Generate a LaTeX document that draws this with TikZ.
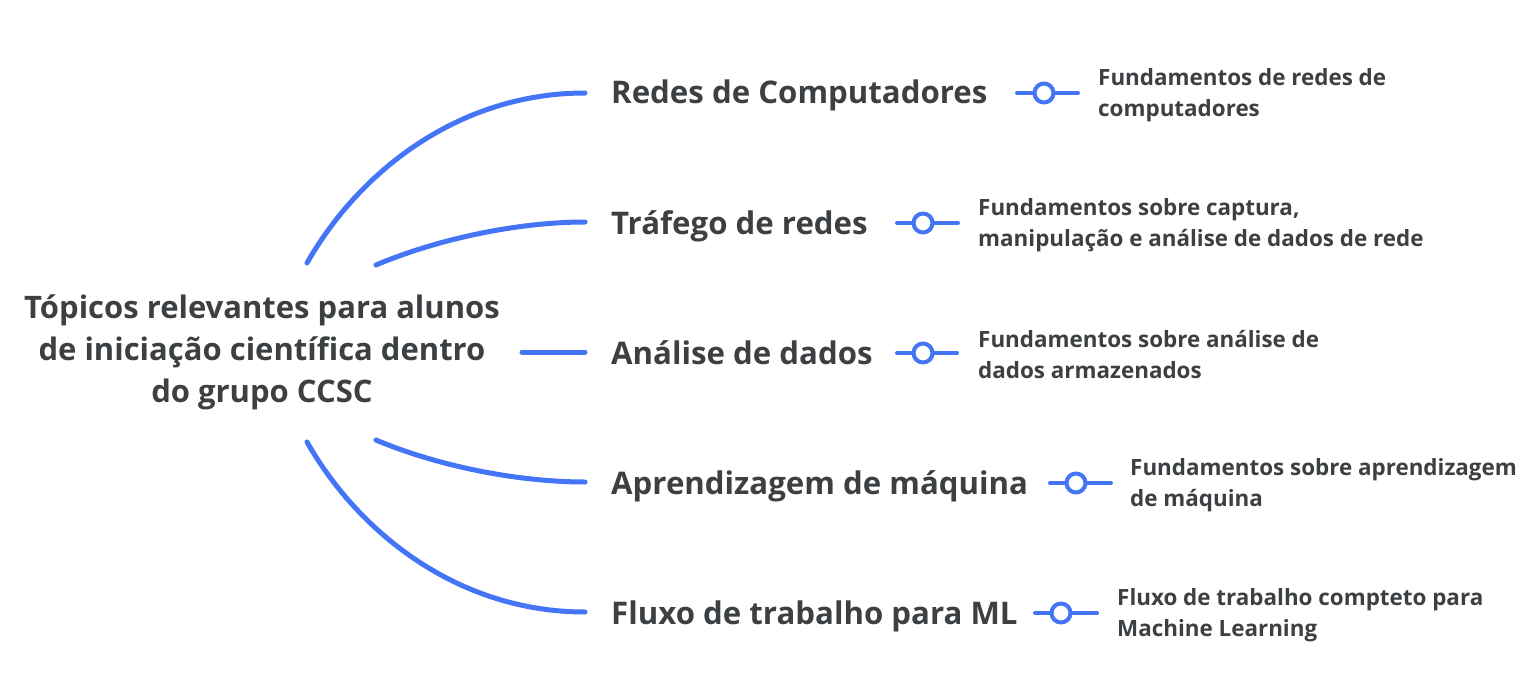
\documentclass[tikz,border=0pt]{standalone}
\usepackage{fontspec}
\setmainfont{Open Sans}
\definecolor{blu}{HTML}{4475F7}
\definecolor{ink}{HTML}{3C4043}
\begin{document}
\begin{tikzpicture}[x=1pt,y=-1pt,
  link/.style={draw=blu,line width=5pt,line cap=round},
  tick/.style={draw=blu,line width=4pt,line cap=round},
  dot/.style={circle,draw=blu,line width=4pt,fill=white,minimum size=19pt,inner sep=0pt},
  topic/.style={anchor=base west,inner sep=0pt,text=ink,font=\fontsize{31.2}{38}\selectfont\bfseries},
  detail/.style={anchor=west,inner sep=0pt,align=left,text=ink,font=\fontsize{22.4}{31}\selectfont\bfseries},
  title/.style={align=center,inner sep=0pt,text=ink,font=\fontsize{31}{42}\selectfont\bfseries}]
\useasboundingbox (0,0) rectangle (1536,690);

\node[title] (root) at (262,352) {Tópicos relevantes para alunos\\de iniciação científica dentro\\do grupo CCSC};

\node[topic] (t1) at (611,104) {Redes de Computadores};
\node[topic] (t2) at (611,234) {Tráfego de redes};
\node[topic] (t3) at (611,364) {Análise de dados};
\node[topic] (t4) at (611,494) {Aprendizagem de máquina};
\node[topic] (t5) at (611,624) {Fluxo de trabalho para ML};

\coordinate (s1) at (307,263); \coordinate (e1) at (585,93);
\coordinate (s2) at (376,265); \coordinate (e2) at (585,222);
\coordinate (s3) at (522,352); \coordinate (e3) at (585,352);
\coordinate (s4) at (376,440); \coordinate (e4) at (585,482);
\coordinate (s5) at (307,442); \coordinate (e5) at (585,612);

\draw[link] (s1) .. controls (360,170) and (460,93) .. (e1);
\draw[link] (s2) .. controls (440,238) and (520,222) .. (e2);
\draw[link] (s3) -- (e3);
\draw[link] (s4) .. controls (440,467) and (520,482) .. (e4);
\draw[link] (s5) .. controls (360,535) and (460,612) .. (e5);

\node[dot] (d1) at (1044,93) {};
\node[dot] (d2) at (923,223) {};
\node[dot] (d3) at (923,353) {};
\node[dot] (d4) at (1076,483) {};
\node[dot] (d5) at (1061,613) {};

\coordinate (a1) at (1017,93);  \coordinate (b1) at (1078,93);
\coordinate (a2) at (897,223);  \coordinate (b2) at (958,223);
\coordinate (a3) at (897,353);  \coordinate (b3) at (957,353);
\coordinate (a4) at (1050,483); \coordinate (b4) at (1111,483);
\coordinate (a5) at (1035,613); \coordinate (b5) at (1097,613);

\foreach \i in {1,...,5}{
  \draw[tick] (a\i) -- (d\i.west);
  \draw[tick] (d\i.east) -- (b\i);
}

\node[detail] (f1) at (1098,95) {Fundamentos de redes de\\computadores};
\node[detail] (f2) at (978,225) {Fundamentos sobre captura,\\manipulação e análise de dados de rede};
\node[detail] (f3) at (978,355) {Fundamentos sobre análise de\\dados armazenados};
\node[detail] (f4) at (1130,485) {Fundamentos sobre aprendizagem\\de máquina};
\node[detail] (f5) at (1117,615) {Fluxo de trabalho compteto para\\Machine Learning};
\end{tikzpicture}
\end{document}
